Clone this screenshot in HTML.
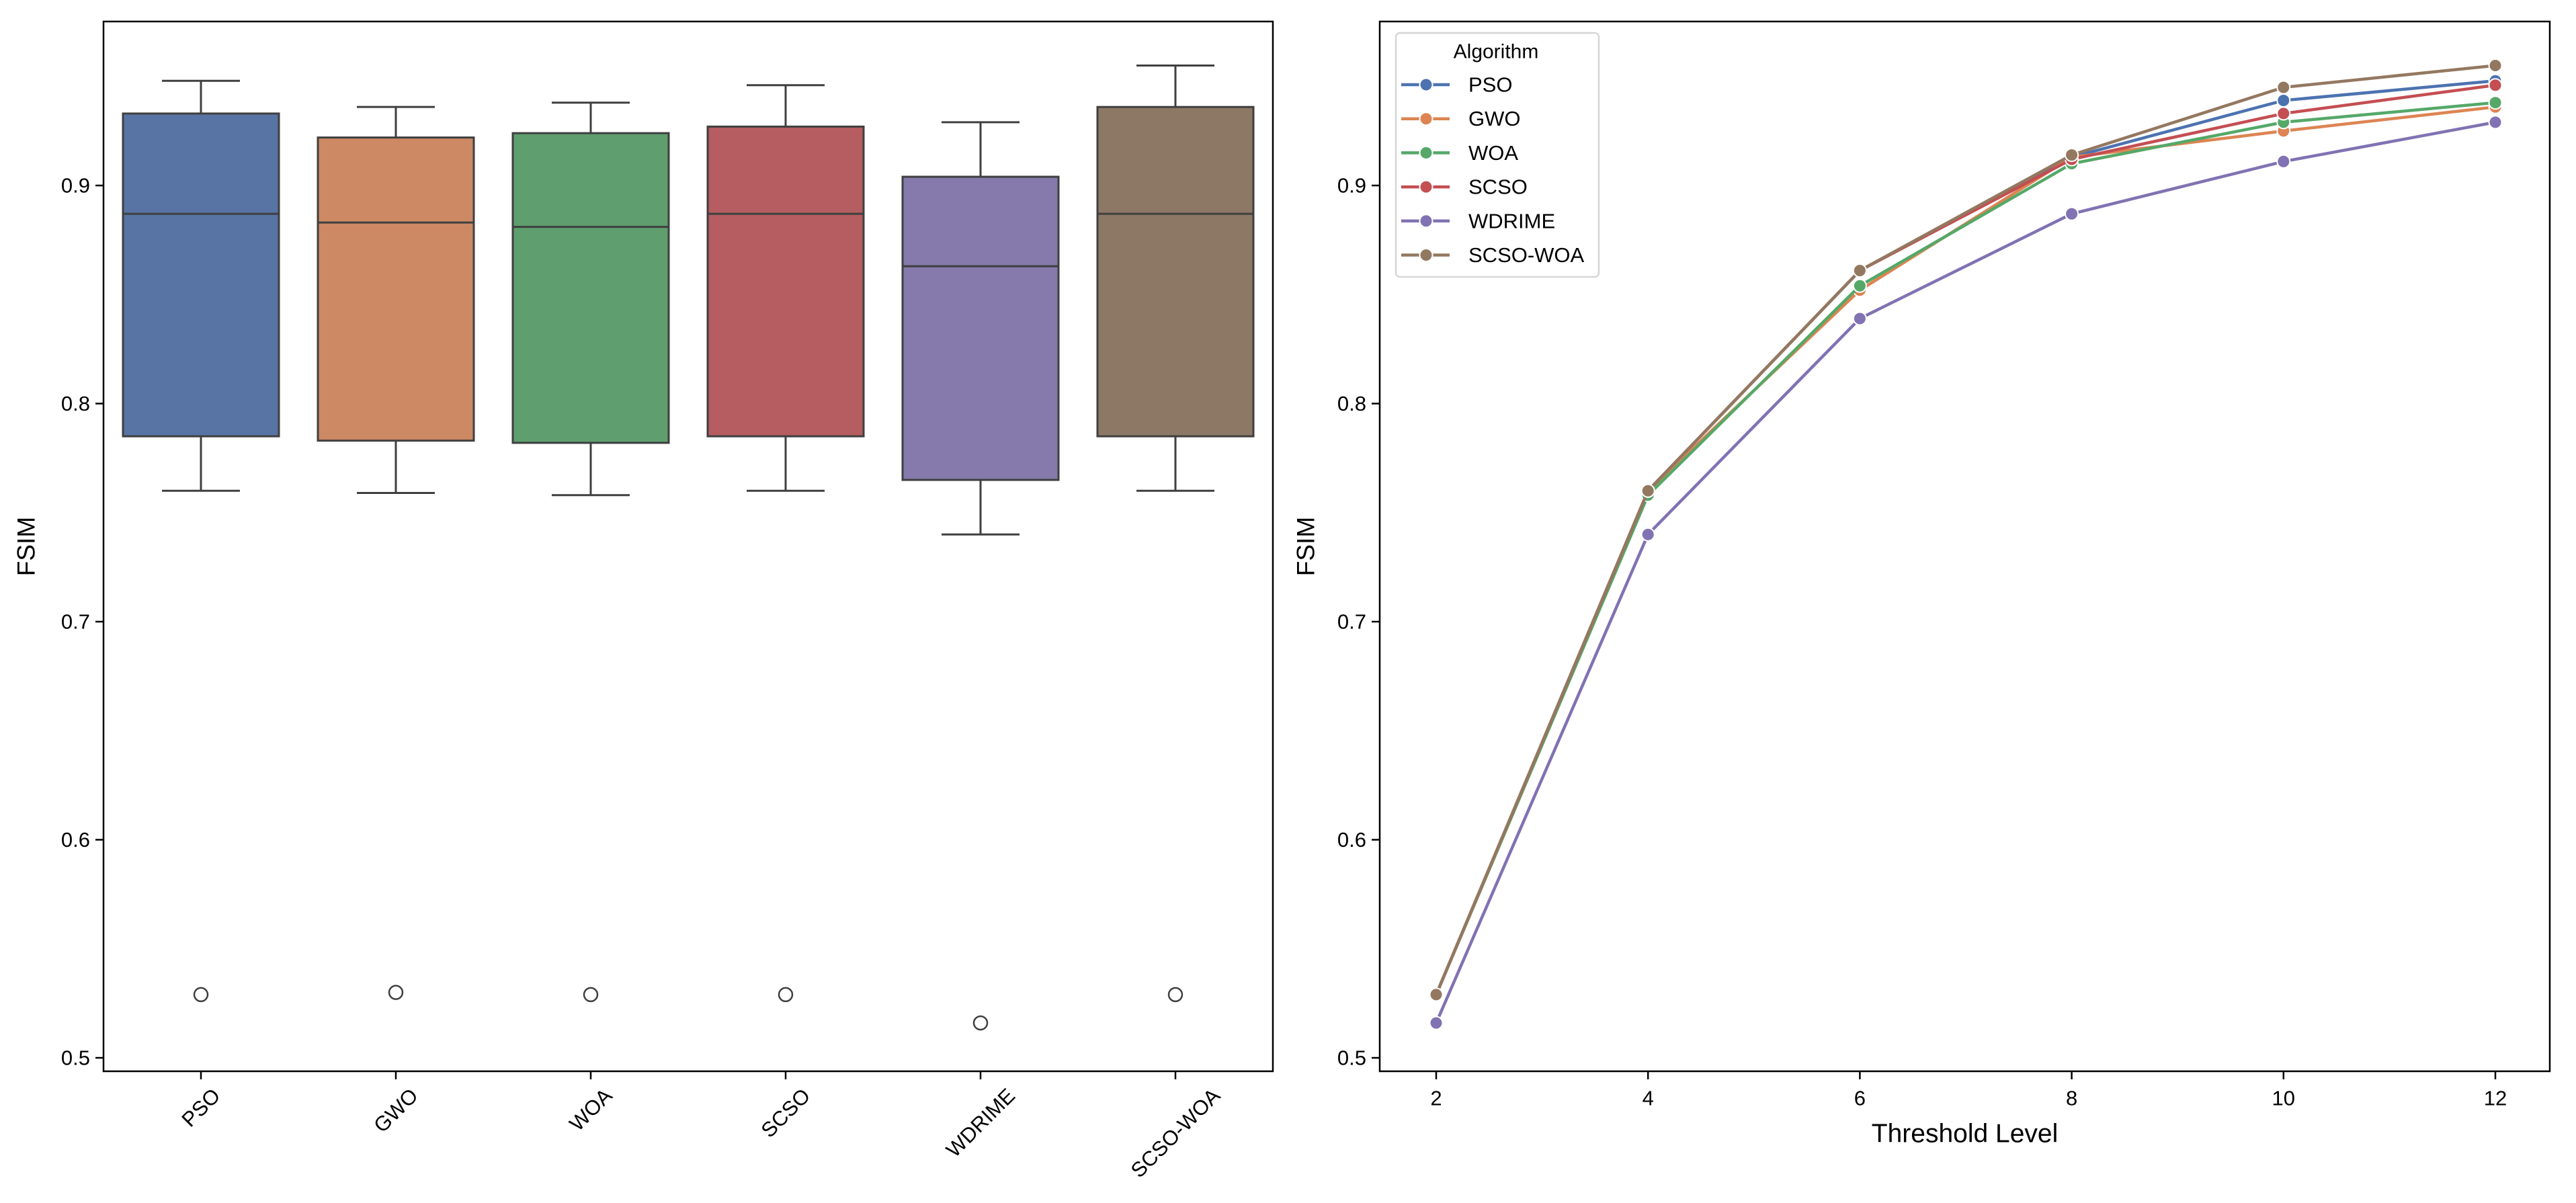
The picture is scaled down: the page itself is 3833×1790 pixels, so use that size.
<!DOCTYPE html>
<html><head><meta charset="utf-8"><style>
html,body{margin:0;padding:0;background:#fff;}
svg{display:block;font-family:"Liberation Sans","DejaVu Sans",sans-serif;}
</style></head><body>
<svg id="fig" width="3833" height="1790" viewBox="0 0 3833 1790">
<rect width="3833" height="1790" fill="#fff"/>
<g id="left"></g>
<g id="right"></g>
</svg>
<script>
// ---- data ----
const algorithms = ["PSO","GWO","WOA","SCSO","WDRIME","SCSO-WOA"];
const boxQ1 = [0.785,0.783,0.782,0.785,0.765,0.785];
const boxMedian = [0.887,0.883,0.881,0.887,0.863,0.887];
const boxQ3 = [0.933,0.922,0.924,0.927,0.904,0.936];
const whiskerLow = [0.760,0.759,0.758,0.760,0.740,0.760];
const whiskerHigh = [0.948,0.936,0.938,0.946,0.929,0.955];
const outliers = [0.529,0.530,0.529,0.529,0.516,0.529];
const thresholds = [2,4,6,8,10,12];
const psoLine = [0.529,0.760,0.861,0.913,0.939,0.948];
const gwoLine = [0.529,0.760,0.852,0.913,0.925,0.936];
const woaLine = [0.529,0.758,0.854,0.910,0.929,0.938];
const scsoLine = [0.529,0.760,0.861,0.912,0.933,0.946];
const wdrimeLine = [0.516,0.740,0.839,0.887,0.911,0.929];
const scsoWoaLine = [0.529,0.760,0.861,0.914,0.945,0.955];
const yTicks = [0.5,0.6,0.7,0.8,0.9];
const xTicks = [2,4,6,8,10,12];

const lineColors = ["#4c72b0","#dd8452","#55a868","#c44e52","#8172b3","#937860"];
const boxColors = ["#5874a4","#cc8963","#5f9e6e","#b55d60","#857aab","#8d7866"];
const NS = "http://www.w3.org/2000/svg";
function mk(parent, tag, attrs, text){
  const e = document.createElementNS(NS, tag);
  for (const k in attrs) e.setAttribute(k, attrs[k]);
  if (text !== undefined) e.textContent = text;
  parent.appendChild(e);
  return e;
}
const axTop = 32, axBot = 1594;
const y = v => 1574 - (v - 0.5) * 3245;
const FS = 31;

// ---- left panel ----
const L = document.getElementById("left");
const lx0 = 154, lx1 = 1894, band = (lx1 - lx0) / algorithms.length;
const xc = i => lx0 + band * (i + 0.5);
algorithms.forEach((a, i) => {
  const cx = xc(i), bw = band * 0.8;
  let e;
  e = mk(L, "line", {x1:cx, x2:cx, y1:y(boxQ3[i]), y2:y(whiskerHigh[i]), stroke:"#3f3f3f", "stroke-width":3});
  
  
  e = mk(L, "line", {x1:cx, x2:cx, y1:y(boxQ1[i]), y2:y(whiskerLow[i]), stroke:"#3f3f3f", "stroke-width":3});
  
  
  e = mk(L, "line", {x1:cx-bw/4, x2:cx+bw/4, y1:y(whiskerHigh[i]), y2:y(whiskerHigh[i]), stroke:"#3f3f3f", "stroke-width":3});
  
  
  e = mk(L, "line", {x1:cx-bw/4, x2:cx+bw/4, y1:y(whiskerLow[i]), y2:y(whiskerLow[i]), stroke:"#3f3f3f", "stroke-width":3});
  
  
  e = mk(L, "rect", {x:cx-bw/2, y:y(boxQ3[i]), width:bw, height:y(boxQ1[i])-y(boxQ3[i]), fill:boxColors[i], stroke:"#3f3f3f", "stroke-width":3});
  
  
  e = mk(L, "line", {x1:cx-bw/2, x2:cx+bw/2, y1:y(boxMedian[i]), y2:y(boxMedian[i]), stroke:"#3f3f3f", "stroke-width":3});
  
  
  e = mk(L, "circle", {cx:cx, cy:y(outliers[i]), r:10, fill:"none", stroke:"#3f3f3f", "stroke-width":2.5});
  
  
  e = mk(L, "line", {x1:cx, x2:cx, y1:axBot, y2:axBot+12, stroke:"#000", "stroke-width":2.5});
  
  
  const t = mk(L, "text", {"font-size":FS, "text-anchor":"middle", "dominant-baseline":"central", fill:"#000"}, a);
  
  
  const w = t.getComputedTextLength();
  const cy = axBot + 20 + (w * 0.707 + FS * 0.707) / 2;
  t.setAttribute("x", cx); t.setAttribute("y", cy);
  t.setAttribute("transform", `rotate(-45 ${cx} ${cy})`);
});
let fr = mk(L, "rect", {x:lx0, y:axTop, width:lx1-lx0, height:axBot-axTop, fill:"none", stroke:"#000", "stroke-width":2.5});



function yAxis(g, x0){
  yTicks.forEach(v => {
    let e = mk(g, "line", {x1:x0-12, x2:x0, y1:y(v), y2:y(v), stroke:"#000", "stroke-width":2.5});
    
    
    e = mk(g, "text", {x:x0-20, y:y(v), "font-size":FS, "text-anchor":"end", "dominant-baseline":"central", fill:"#000"}, v.toFixed(1));
    
    
  });
}
yAxis(L, lx0);
let yl = mk(L, "text", {x:39, y:(axTop+axBot)/2, "font-size":37, "text-anchor":"middle", "dominant-baseline":"central", transform:`rotate(-90 39 ${(axTop+axBot)/2})`}, "FSIM");



// ---- right panel ----
const R = document.getElementById("right");
const rx0 = 2053, rx1 = 3794;
const x = v => 2137 + (v - 2) * 157.6;
const series = [psoLine, gwoLine, woaLine, scsoLine, wdrimeLine, scsoWoaLine];
series.forEach((s, k) => {
  const p = mk(R, "polyline", {points: s.map((v, i) => x(thresholds[i]) + "," + y(v)).join(" "), fill:"none", stroke:lineColors[k], "stroke-width":4.5});
  
  
  s.forEach((v, i) => {
    const c = mk(R, "circle", {cx:x(thresholds[i]), cy:y(v), r:9.5, fill:lineColors[k], stroke:"#fff", "stroke-width":2});
    
    
  });
});
xTicks.forEach(v => {
  let e = mk(R, "line", {x1:x(v), x2:x(v), y1:axBot, y2:axBot+12, stroke:"#000", "stroke-width":2.5});
  
  
  e = mk(R, "text", {x:x(v), y:axBot+40, "font-size":FS, "text-anchor":"middle", "dominant-baseline":"central"}, String(v));
  
  
});
yAxis(R, rx0);
fr = mk(R, "rect", {x:rx0, y:axTop, width:rx1-rx0, height:axBot-axTop, fill:"none", stroke:"#000", "stroke-width":2.5});


let yl2 = mk(R, "text", {x:1943, y:(axTop+axBot)/2, "font-size":37, "text-anchor":"middle", "dominant-baseline":"central", transform:`rotate(-90 1943 ${(axTop+axBot)/2})`}, "FSIM");


let xl = mk(R, "text", {x:(rx0+rx1)/2, y:1687, "font-size":39, "text-anchor":"middle", "dominant-baseline":"central"}, "Threshold Level");



// legend
const lg = mk(R, "g", {});


mk(lg, "rect", {x:2077, y:49, width:302, height:363, rx:6, fill:"#fff", "fill-opacity":0.8, stroke:"#d6d6d6", "stroke-width":2.5});
const lt = mk(lg, "text", {x:2226, y:77, "font-size":30, "text-anchor":"middle", "dominant-baseline":"central"}, "Algorithm");


algorithms.forEach((a, k) => {
  const ry = 126 + k * 50.7;
  const ge = mk(lg, "g", {});
  
  
  mk(ge, "line", {x1:2085, x2:2157, y1:ry, y2:ry, stroke:lineColors[k], "stroke-width":4.5});
  mk(ge, "circle", {cx:2122, cy:ry, r:9.5, fill:lineColors[k], stroke:"#fff", "stroke-width":2});
  mk(ge, "text", {x:2185, y:ry, "font-size":31, "dominant-baseline":"central"}, a);
});
</script>
</body></html>
